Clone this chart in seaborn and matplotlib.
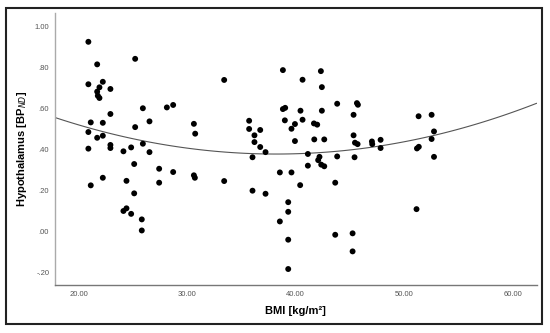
import matplotlib
matplotlib.use("Agg")
import matplotlib.pyplot as plt
import seaborn as sns
import numpy as np
import pandas as pd
from matplotlib.patches import Rectangle

bmi = [20.90, 21.71, 25.21, 20.90, 22.23, 21.92, 22.93, 21.71, 21.77, 21.92,
       22.93, 25.92, 28.13, 28.71, 26.53, 21.12, 22.23, 25.21, 30.62, 30.74,
       20.90, 21.71, 22.23, 20.90, 22.93, 22.93, 24.84, 25.92, 24.13, 26.53,
       25.12, 27.42, 28.71, 30.62, 30.71, 22.23, 21.12, 24.41, 27.42, 25.12,
       24.41, 24.13, 24.84, 25.82, 25.82, 33.41, 33.41, 38.82, 42.32, 40.63,
       42.41, 43.82, 45.64, 45.73, 38.82, 39.03, 40.44, 42.41, 45.33, 35.71,
       39.00, 40.63, 35.71, 36.73, 36.20, 39.93, 39.61, 41.68, 41.98, 36.20,
       36.73, 39.93, 41.71, 42.63, 45.33, 45.46, 45.70, 47.02, 47.05, 47.82,
       47.82, 51.32, 52.52, 52.74, 52.52, 51.17, 51.34, 52.74, 37.22, 36.02,
       41.12, 42.19, 42.07, 42.35, 42.63, 43.82, 45.42, 41.12, 38.54, 39.61,
       36.02, 37.22, 40.41, 43.64, 39.31, 39.31, 38.54, 39.31, 43.64, 45.24,
       45.24, 39.31, 51.13]
bp_nd = [0.923, 0.813, 0.840, 0.716, 0.728, 0.701, 0.693, 0.680, 0.660, 0.649,
         0.571, 0.599, 0.603, 0.615, 0.535, 0.530, 0.528, 0.507, 0.523, 0.475,
         0.483, 0.455, 0.465, 0.402, 0.420, 0.405, 0.408, 0.426, 0.389, 0.385,
         0.327, 0.304, 0.288, 0.272, 0.260, 0.260, 0.223, 0.245, 0.236, 0.184,
         0.111, 0.098, 0.084, 0.057, 0.003, 0.737, 0.244, 0.785, 0.780, 0.738,
         0.702, 0.621, 0.624, 0.616, 0.595, 0.601, 0.587, 0.587, 0.567, 0.538,
         0.540, 0.543, 0.498, 0.493, 0.467, 0.522, 0.499, 0.525, 0.519, 0.434,
         0.410, 0.439, 0.447, 0.447, 0.467, 0.431, 0.424, 0.437, 0.424, 0.445,
         0.405, 0.560, 0.567, 0.486, 0.449, 0.403, 0.411, 0.362, 0.385, 0.360,
         0.376, 0.362, 0.346, 0.324, 0.316, 0.364, 0.360, 0.319, 0.286, 0.286,
         0.197, 0.182, 0.224, 0.236, 0.141, 0.094, 0.047, -0.042, -0.018, -0.011,
         -0.099, -0.185, 0.107]

x_ticks = [20, 30, 40, 50, 60]
x_tick_labels = ["20.00", "30.00", "40.00", "50.00", "60.00"]
y_ticks = [-0.2, 0.0, 0.2, 0.4, 0.6, 0.8, 1.0]
y_tick_labels = ["-.20", ".00", ".20", ".40", ".60", ".80", "1.00"]

df = pd.DataFrame({"BMI": bmi, "BP": bp_nd})

sns.set_theme(style="white")
plt.rcParams["font.family"] = ["Liberation Sans", "DejaVu Sans"]

fig = plt.figure(figsize=(5.5, 3.33), dpi=100)
ax = fig.add_axes([0.0995, 0.1441, 0.8763, 0.8178])

ax.set_xlim(17.8, 62.2)
ax.set_ylim(-0.263, 1.065)

sns.regplot(data=df, x="BMI", y="BP", order=2, ci=None, truncate=False,
            scatter=False, ax=ax,
            line_kws={"color": "#555555", "linewidth": 0.8})
sns.scatterplot(data=df, x="BMI", y="BP", ax=ax, color="black", s=18,
                edgecolor="none", linewidth=0, zorder=3)

ax.set_xlim(17.8, 62.2)
ax.set_ylim(-0.263, 1.065)

ax.set_xticks(x_ticks)
ax.set_xticklabels(x_tick_labels)
ax.set_yticks(y_ticks)
ax.set_yticklabels(y_tick_labels)
ax.tick_params(axis="both", length=0, labelsize=5.5, labelcolor="#555555", pad=4)

for s in ["top", "right"]:
    ax.spines[s].set_visible(False)
ax.spines["left"].set_color("#aaaaaa")
ax.spines["bottom"].set_color("#777777")
ax.spines["left"].set_linewidth(1.0)
ax.spines["bottom"].set_linewidth(1.0)

ax.set_xlabel("BMI [kg/m²]", fontsize=8, fontweight="bold", color="black", labelpad=6)
ax.set_ylabel(r"Hypothalamus [BP$_{\mathbf{\mathit{ND}}}$]", fontsize=8, fontweight="bold",
              color="black", labelpad=4)

fig.patches.append(Rectangle((6 / 550, 1 - 324 / 333), 536 / 550, 316 / 333,
                             transform=fig.transFigure, fill=False,
                             edgecolor="#222222", linewidth=1.5, zorder=10))

fig.savefig("out.png", dpi=100)
